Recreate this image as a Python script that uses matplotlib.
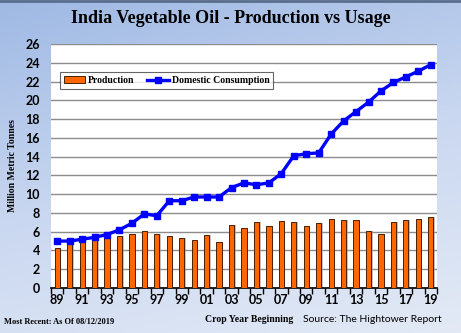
import matplotlib
matplotlib.use('Agg')
import matplotlib.pyplot as plt
import numpy as np
from matplotlib.colors import LinearSegmentedColormap

years = ['89', '90', '91', '92', '93', '94', '95', '96', '97', '98', '99', '00', '01', '02',
         '03', '04', '05', '06', '07', '08', '09', '10', '11', '12', '13', '14', '15', '16',
         '17', '18', '19']
production = [4.3, 4.7, 5.0, 5.1, 5.4, 5.5, 5.8, 6.1, 5.8, 5.5, 5.3, 5.1, 5.7, 4.9,
              6.7, 6.4, 7.0, 6.6, 7.1, 7.0, 6.6, 6.9, 7.3, 7.2, 7.2, 6.1, 5.8, 7.0,
              7.2, 7.4, 7.6]
consumption = [5.0, 5.0, 5.2, 5.4, 5.7, 6.2, 6.9, 7.9, 7.7, 9.3, 9.3, 9.7, 9.7, 9.7,
               10.7, 11.2, 11.0, 11.2, 12.2, 14.1, 14.3, 14.4, 16.4, 17.8, 18.8, 19.8, 21.0, 21.9,
               22.5, 23.1, 23.8]
y_ticks = list(range(0, 27, 2))

serif = 'Liberation Serif'
sans = 'Lato'

fig = plt.figure(figsize=(4.61, 3.33), dpi=100)

# background gradient
bg = fig.add_axes([0, 0, 1, 1], zorder=-10)
gx, gy = np.meshgrid(np.linspace(0, 1, 200), np.linspace(0, 1, 200))
grad = 0.75 * gy + 0.25 * gx
cmap = LinearSegmentedColormap.from_list('bg', ['#9fb9e4', '#c9d7f0', '#e3eaf6'])
bg.imshow(grad, cmap=cmap, aspect='auto', extent=[0, 1, 0, 1], origin='upper')
bg.set_axis_off()
bg.plot([0, 1], [0.997, 0.997], color='#5a6d8c', lw=2, transform=bg.transAxes)

ax = fig.add_axes([51 / 461, 1 - 288 / 333, 386 / 461, 244 / 333])
ax.set_facecolor('white')
x = np.arange(len(years))

# bar shadows then bars
ax.bar(x + 0.12, production, width=0.42, color='#9a9a9a', alpha=0.6, zorder=2, linewidth=0)
bars = ax.bar(x, production, width=0.42, color='#ff6600', edgecolor='#4a2000', linewidth=0.7,
              zorder=3, label='Production')
line, = ax.plot(x, consumption, color='#0000ff', lw=2.4, marker='s', markersize=5,
                zorder=4, label='Domestic Consumption')

ax.set_xlim(-0.5, len(years) - 0.5)
ax.set_ylim(0, 26)
ax.set_yticks(y_ticks)
ax.set_yticklabels([str(v) for v in y_ticks], fontfamily=sans, fontweight='bold', fontsize=9)
ax.yaxis.grid(True, color='#8c8c8c', lw=1.0)
ax.set_axisbelow(True)
ax.tick_params(axis='y', length=0, pad=8)

ax.set_xticks(x[::2])
ax.set_xticklabels(years[::2], fontfamily=sans, fontweight='bold', fontsize=9)
ax.set_xticks(np.arange(-0.5, len(years), 1), minor=True)
ax.tick_params(axis='x', which='major', length=0, pad=4)
ax.tick_params(axis='x', which='minor', length=4, width=1, color='black', direction='out')

for s in ['top', 'right', 'left']:
    ax.spines[s].set_visible(False)
ax.spines['bottom'].set_color('black')
ax.spines['bottom'].set_linewidth(1.2)

ax.set_ylabel('Million Metric Tonnes', fontfamily=serif, fontweight='bold', fontsize=7, labelpad=6)

leg = ax.legend([bars, line], ['Production', 'Domestic Consumption'], loc='upper left',
                bbox_to_anchor=(0.023, 0.885), borderaxespad=0, ncol=2, frameon=True,
                fancybox=False, prop={'family': serif, 'weight': 'bold', 'size': 7},
                handlelength=2.2, columnspacing=1.3, borderpad=0.4, handletextpad=0.3)
leg.get_frame().set_edgecolor('#404040')
leg.get_frame().set_linewidth(0.8)

fig.text(0.5, 0.945, 'India Vegetable Oil - Production vs Usage', ha='center', va='center',
         fontfamily=serif, fontweight='bold', fontsize=13)
fig.text(4 / 461, 1 - 322 / 333, 'Most Recent: As Of 08/12/2019', ha='left', va='center',
         fontfamily=serif, fontweight='bold', fontsize=6)
fig.text(249 / 461, 1 - 319 / 333, 'Crop Year Beginning', ha='center', va='center',
         fontfamily=serif, fontweight='bold', fontsize=7)
fig.text(372 / 461, 1 - 319 / 333, 'Source: The Hightower Report', ha='center', va='center',
         fontfamily=sans, fontsize=7.5)

fig.savefig('out.png', dpi=100)
